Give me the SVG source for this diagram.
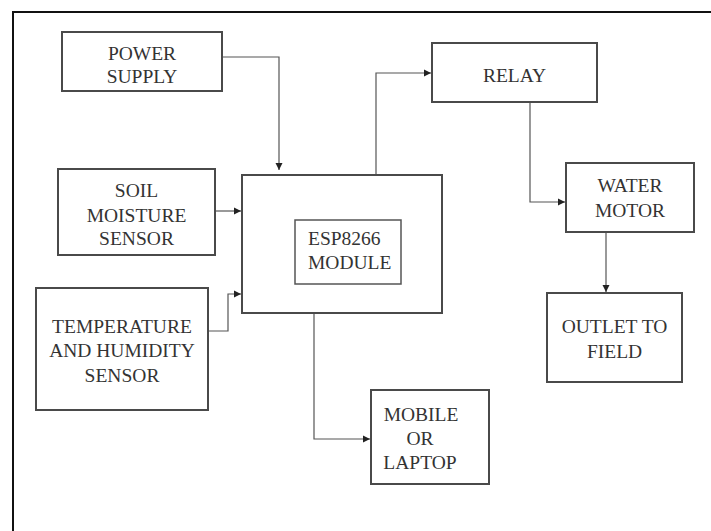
<svg xmlns="http://www.w3.org/2000/svg" width="711" height="531" viewBox="0 0 711 531">
<defs>
<marker id="arr" markerUnits="userSpaceOnUse" markerWidth="8" markerHeight="8" refX="7" refY="4" orient="auto">
<path d="M0,0.5 L7,4 L0,7.5 Z" fill="#222"/>
</marker>
</defs>
<style>
.box{fill:#fff;stroke:#4a4a4a;stroke-width:2}
.inner{fill:#fff;stroke:#555;stroke-width:1.5}
text{font-family:'Liberation Serif','Times New Roman',Times,serif;font-size:19.5px;fill:#333;text-anchor:middle}
.c{fill:none;stroke:#555;stroke-width:1.2}
</style>
<rect width="711" height="531" fill="#fff"/>
<rect x="13" y="12" width="720" height="540" fill="none" stroke="#111" stroke-width="2"/>
<g id="connectors">
<path class="c" d="M222,57 H279 V170" marker-end="url(#arr)"/>
<path class="c" d="M215,211 H241" marker-end="url(#arr)"/>
<path class="c" d="M208,331 H228 V294 H241" marker-end="url(#arr)"/>
<path class="c" d="M376,175 V73 H431" marker-end="url(#arr)"/>
<path class="c" d="M530,102 V202 H565" marker-end="url(#arr)"/>
<path class="c" d="M606,232 V292" marker-end="url(#arr)"/>
<path class="c" d="M314,313 V439 H370" marker-end="url(#arr)"/>
</g>
<g id="power">
<rect class="box" x="62" y="32" width="160" height="59"/>
<text font-family="Liberation Serif, serif" x="142" y="60">POWER</text>
<text font-family="Liberation Serif, serif" x="142" y="83">SUPPLY</text>
</g>
<g id="soil">
<rect class="box" x="58" y="169" width="157" height="86"/>
<text font-family="Liberation Serif, serif" x="136.5" y="197">SOIL</text>
<text font-family="Liberation Serif, serif" x="136.5" y="222">MOISTURE</text>
<text font-family="Liberation Serif, serif" x="136.5" y="245">SENSOR</text>
</g>
<g id="temp">
<rect class="box" x="36" y="288" width="172" height="122"/>
<text font-family="Liberation Serif, serif" x="122" y="333">TEMPERATURE</text>
<text font-family="Liberation Serif, serif" x="122" y="357">AND HUMIDITY</text>
<text font-family="Liberation Serif, serif" x="122" y="382">SENSOR</text>
</g>
<g id="esp">
<rect class="box" x="242" y="175" width="200" height="138"/>
<rect class="inner" x="295" y="220" width="106" height="64"/>
<text font-family="Liberation Serif, serif" x="308" y="245" style="text-anchor:start">ESP8266</text>
<text font-family="Liberation Serif, serif" x="308" y="269" style="text-anchor:start">MODULE</text>
</g>
<g id="relay">
<rect class="box" x="432" y="43" width="165" height="59"/>
<text font-family="Liberation Serif, serif" x="514.5" y="82">RELAY</text>
</g>
<g id="motor">
<rect class="box" x="566" y="163" width="128" height="69"/>
<text font-family="Liberation Serif, serif" x="630" y="192">WATER</text>
<text font-family="Liberation Serif, serif" x="630" y="217">MOTOR</text>
</g>
<g id="outlet">
<rect class="box" x="547" y="293" width="135" height="89"/>
<text font-family="Liberation Serif, serif" x="614.5" y="333">OUTLET TO</text>
<text font-family="Liberation Serif, serif" x="614.5" y="358">FIELD</text>
</g>
<g id="mobile">
<rect class="box" x="371" y="390" width="118" height="94"/>
<text font-family="Liberation Serif, serif" x="421" y="421">MOBILE</text>
<text font-family="Liberation Serif, serif" x="420" y="445">OR</text>
<text font-family="Liberation Serif, serif" x="420" y="469">LAPTOP</text>
</g>
</svg>
